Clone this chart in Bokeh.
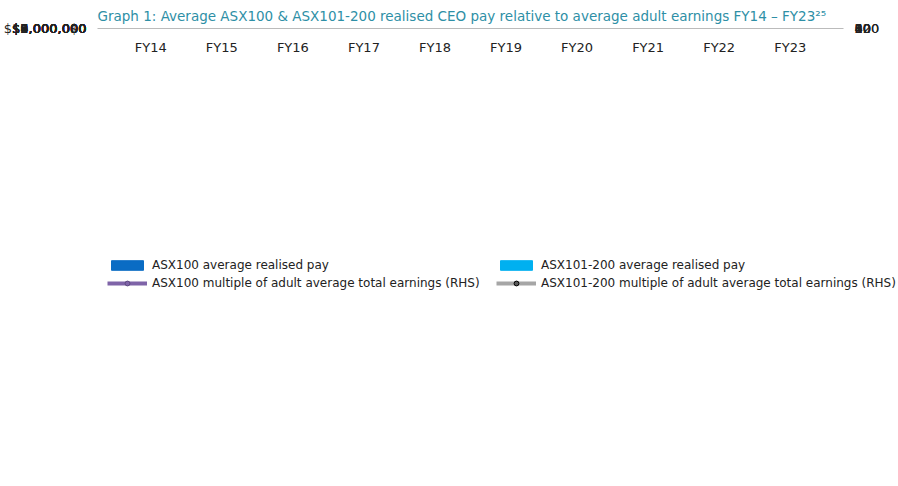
from bokeh.plotting import figure
from bokeh.models import ColumnDataSource, LinearAxis, Range1d, NumeralTickFormatter, Legend, LegendItem, FactorRange
from bokeh.transform import dodge
from bokeh.embed import file_html
from bokeh.resources import INLINE

years = ["FY14","FY15","FY16","FY17","FY18","FY19","FY20","FY21","FY22","FY23"]
asx100_pay = [5620000,5530000,5790000,6220000,5690000,5230000,5820000,9140000,5260000,5030000]
asx200_pay = [2340000,1880000,2100000,2270000,2530000,3650000,2500000,3030000,3000000,2500000]
asx100_mult = [71.0,68.7,69.5,74.2,66.0,59.2,64.3,97.5,54.9,50.5]
asx200_mult = [29.2,23.7,24.9,27.2,29.6,41.0,27.6,32.8,31.2,25.3]

src = ColumnDataSource(dict(x=years, a=asx100_pay, b=asx200_pay, m1=asx100_mult, m2=asx200_mult))

p = figure(x_range=FactorRange(*years, range_padding=0.05), y_range=Range1d(0, 10000000),
           width=882, height=470, output_backend="svg", toolbar_location=None,
           title="Graph 1: Average ASX100 & ASX101-200 realised CEO pay relative to average adult earnings FY14 – FY23²⁵")
p.title.text_color = "#2E8FA6"
p.title.text_font = "DejaVu Sans"
p.title.text_font_size = "13.5px"
p.title.text_font_style = "normal"
p.min_border_left = 10
p.min_border_right = 10
p.outline_line_color = None
p.xgrid.grid_line_color = None
p.ygrid.grid_line_color = None
p.extra_y_ranges = {"r": Range1d(0, 120)}
ax = LinearAxis(y_range_name="r")
ax.ticker.desired_num_ticks = 7
p.add_layout(ax, "right")
p.yaxis[0].formatter = NumeralTickFormatter(format="$0,0")
p.yaxis[0].ticker.desired_num_ticks = 10
for a in [p.yaxis[0], ax, p.xaxis[0]]:
    a.axis_line_color = None
    a.major_tick_line_color = None
    a.minor_tick_line_color = None
    a.major_label_text_font_size = "13px"
    a.major_label_text_color = "#222222"
    a.major_label_text_font = "DejaVu Sans"
p.xaxis[0].axis_line_color = "#bbbbbb"

r1 = p.vbar(x=dodge("x", -0.165, range=p.x_range), top="a", width=0.32, source=src, color="#0A6CC4")
r2 = p.vbar(x=dodge("x", 0.165, range=p.x_range), top="b", width=0.32, source=src, color="#00B0F0")
l1 = p.line("x", "m1", source=src, y_range_name="r", color="#7F64A8", line_width=4)
c1 = p.scatter("x", "m1", source=src, y_range_name="r", size=9, fill_color="#7F64A8", line_color="#5e4a80")
l2 = p.line("x", "m2", source=src, y_range_name="r", color="#A6A6A6", line_width=4)
c2 = p.scatter("x", "m2", source=src, y_range_name="r", size=9, fill_color="#595959", line_color="black")

leg = Legend(items=[
    LegendItem(label="ASX100 average realised pay", renderers=[r1]),
    LegendItem(label="ASX100 multiple of adult average total earnings (RHS)", renderers=[l1, c1]),
    LegendItem(label="ASX101-200 average realised pay", renderers=[r2]),
    LegendItem(label="ASX101-200 multiple of adult average total earnings (RHS)", renderers=[l2, c2]),
], ncols=2, location="top_left", orientation="vertical")
leg.label_text_font_size = "12px"
leg.label_text_font = "DejaVu Sans"
leg.label_text_color = "#222222"
leg.border_line_color = None
leg.glyph_width = 40
leg.glyph_height = 12
leg.spacing = 4
leg.padding = 4
leg.margin = 10
leg.label_width = 340
p.add_layout(leg, "below")

open("out.html", "w").write(file_html(p, INLINE))
